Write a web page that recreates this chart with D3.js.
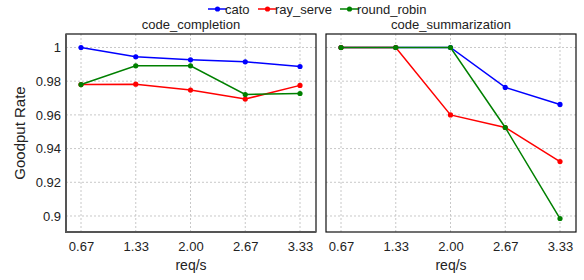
<!DOCTYPE html>
<html>
<head>
<meta charset="utf-8">
<script src="https://cdn.jsdelivr.net/npm/d3@7"></script>
<style>
  body { margin: 0; background: #fff; }
  svg { font-family: "Liberation Sans", Arial, sans-serif; }
  .grid line { stroke: #c8c8c8; stroke-dasharray: 2,2; }
  .axis path, .axis line { display: none; }
  .axis text { font-size: 13px; fill: #222; }
</style>
</head>
<body>
<svg width="584" height="280"></svg>
<script>
var xLabels = ["0.67", "1.33", "2.00", "2.67", "3.33"];
var yTicks = [0.9, 0.92, 0.94, 0.96, 0.98, 1];
var seriesNames = ["cato", "ray_serve", "round_robin"];
var seriesColors = ["#0000ff", "#ff0000", "#008000"];
var panelTitles = ["code_completion", "code_summarization"];

// code_completion
var completionCato = [1.0, 0.9945, 0.9927, 0.9915, 0.9887];
var completionRay = [0.978, 0.9782, 0.9747, 0.9694, 0.9775];
var completionRR = [0.978, 0.9891, 0.9891, 0.9721, 0.9727];

// code_summarization
var summarizationCato = [1.0, 1.0, 1.0, 0.9763, 0.9662];
var summarizationRay = [1.0, 1.0, 0.96, 0.9525, 0.9323];
var summarizationRR = [1.0, 1.0, 1.0, 0.9525, 0.8985];

var panels = [
    [completionCato, completionRay, completionRR],
    [summarizationCato, summarizationRay, summarizationRR]
];

var svg = d3.select("svg"),
    top0 = 34, bottom0 = 232,
    panelW = 250,
    panelLeft = [66, 326];

var y = d3.scaleLinear().domain([0.8905, 1.008]).range([bottom0, top0]);

panels.forEach(function(data, p) {
    var x = d3.scalePoint().domain(xLabels).range([15, panelW - 16]);
    var g = svg.append("g").attr("transform", "translate(" + panelLeft[p] + ",0)");

    // grid
    g.append("g").attr("class", "grid")
        .selectAll("line.h").data(yTicks).enter().append("line")
        .attr("x1", 0).attr("x2", panelW)
        .attr("y1", function(d) { return y(d); })
        .attr("y2", function(d) { return y(d); });
    g.append("g").attr("class", "grid")
        .selectAll("line.v").data(xLabels).enter().append("line")
        .attr("x1", function(d) { return x(d); })
        .attr("x2", function(d) { return x(d); })
        .attr("y1", top0).attr("y2", bottom0);

    // lines + markers
    data.forEach(function(vals, s) {
        var pts = vals.map(function(v, i) { return {k: xLabels[i], v: v}; });
        g.append("path").datum(pts)
            .attr("fill", "none")
            .attr("stroke", seriesColors[s])
            .attr("stroke-width", 1.5)
            .attr("d", d3.line().x(function(d) { return x(d.k); }).y(function(d) { return y(d.v); }));
        g.selectAll(null).data(pts).enter().append("circle")
            .attr("cx", function(d) { return x(d.k); })
            .attr("cy", function(d) { return y(d.v); })
            .attr("r", 2.6)
            .attr("fill", seriesColors[s]);
    });

    // frame
    g.append("rect")
        .attr("x", 0).attr("y", top0)
        .attr("width", panelW).attr("height", bottom0 - top0)
        .attr("fill", "none")
        .attr("stroke", "#111").attr("stroke-width", 1.2);

    // x axis
    g.append("g").attr("class", "axis")
        .attr("transform", "translate(0," + bottom0 + ")")
        .call(d3.axisBottom(x).tickSize(0).tickPadding(10));

    g.append("text")
        .attr("x", panelW / 2).attr("y", 270)
        .attr("text-anchor", "middle")
        .attr("font-size", 14).attr("fill", "#222")
        .text("req/s");

    g.append("text")
        .attr("x", panelW / 2).attr("y", 29)
        .attr("text-anchor", "middle")
        .attr("font-size", 13).attr("fill", "#222")
        .text(panelTitles[p]);
});

// left panel axis line (gray, thicker)
svg.append("path")
    .attr("d", "M" + panelLeft[0] + "," + top0 + "V" + bottom0 + "H" + (panelLeft[0] + panelW))
    .attr("fill", "none").attr("stroke", "#555").attr("stroke-width", 2);

// y axis
svg.append("g").attr("class", "axis")
    .attr("transform", "translate(" + panelLeft[0] + ",0)")
    .call(d3.axisLeft(y).tickValues(yTicks).tickSize(0).tickPadding(5)
        .tickFormat(function(d) { return d3.format("")(+d.toFixed(2)); }));

svg.append("text")
    .attr("transform", "translate(25," + ((top0 + bottom0) / 2) + ") rotate(-90)")
    .attr("text-anchor", "middle")
    .attr("font-size", 15).attr("fill", "#222")
    .text("Goodput Rate");

// legend
var legX = [208, 258, 340];
var leg = svg.append("g");
seriesNames.forEach(function(n, i) {
    var lg = leg.append("g").attr("transform", "translate(" + legX[i] + ",9)");
    lg.append("line").attr("x1", 0).attr("x2", 19).attr("stroke", seriesColors[i]).attr("stroke-width", 1.5);
    lg.append("circle").attr("cx", 9.5).attr("r", 2.6).attr("fill", seriesColors[i]);
    lg.append("text").attr("x", 17).attr("y", 5).attr("font-size", 13).attr("fill", "#222").text(n);
});
</script>
</body>
</html>
